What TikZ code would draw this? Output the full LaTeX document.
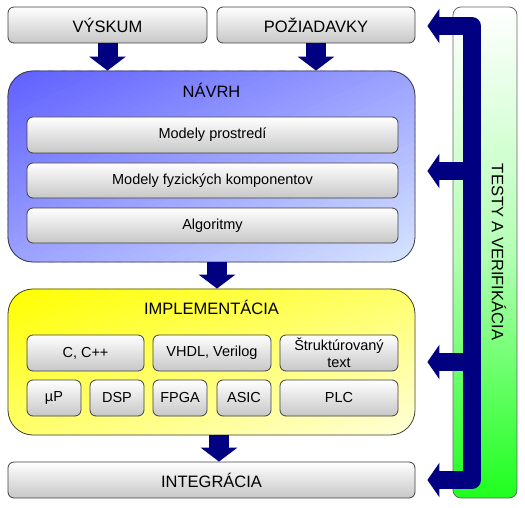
\documentclass[tikz,border=0pt]{standalone}
\usepackage{fontspec}
\setmainfont{Liberation Sans}
\usetikzlibrary{arrows.meta,calc,backgrounds}
\definecolor{arrowblue}{RGB}{0,0,128}
\definecolor{navrhdark}{RGB}{96,96,255}
\definecolor{navrhlight}{RGB}{214,228,255}
\definecolor{impldark}{RGB}{255,255,0}
\definecolor{impllight}{RGB}{255,255,215}
\definecolor{greenmid}{RGB}{180,255,180}
\definecolor{greenbot}{RGB}{30,255,30}
% diagonal (corner to corner) gradient fill behind a named node
\newcommand\diagfill[3]{%
  \begin{pgfonlayer}{background}
  \begin{scope}
    \clip[rounded corners=25pt] (#1.north west) rectangle (#1.south east);
    \foreach \i in {0,...,59}{%
      \pgfmathsetmacro\ca{\i/30}%
      \pgfmathsetmacro\cb{(\i+1.4)/30}%
      \pgfmathsetmacro\pc{100-100*\i/59}%
      \fill[#2!\pc!#3]
        ($(#1.north west)!\ca!(#1.north east)$) --
        ($(#1.north west)!\cb!(#1.north east)$) --
        ($(#1.north west)!\cb!(#1.south west)$) --
        ($(#1.north west)!\ca!(#1.south west)$) -- cycle;
    }
  \end{scope}
  \end{pgfonlayer}}
\begin{document}
\begin{tikzpicture}[x=1pt,y=-1pt,
  graybox/.style={draw=black!75, line width=0.8pt, rounded corners=6pt, top color=white, bottom color=black!22,
    minimum height=36pt, inner sep=0pt, align=center, font=\fontsize{14.5}{17}\selectfont},
  titlebox/.style={graybox, font=\fontsize{16.5}{19}\selectfont},
  bigbox/.style={draw=black!75, line width=0.8pt, rounded corners=25pt, inner sep=0pt, minimum width=407pt},
  titletext/.style={font=\fontsize{16.5}{19}\selectfont, inner sep=0pt},
  downarr/.style={arrowblue, line width=20pt, -{Triangle[length=14pt,width=36pt]}},
  leftarr/.style={arrowblue, line width=18pt, -{Triangle[length=12pt,width=34pt]}},
]
\useasboundingbox (0,0) rectangle (525,508);

% green side bar
\node[draw=black!60, line width=0.8pt, rounded corners=8pt, top color=white, bottom color=greenbot, middle color=greenmid,
  minimum width=64pt, minimum height=491pt, inner sep=0pt] (testy) at (485,252.5) {};

% top boxes
\node[titlebox, minimum width=199pt] (vyskum) at (107.5,25) {VÝSKUM};
\node[titlebox, minimum width=198pt] (poziad) at (316,25) {POŽIADAVKY};

% NAVRH
\node[bigbox, minimum height=191pt] (navrh) at (211.5,166.5) {};
\diagfill{navrh}{navrhdark}{navrhlight}
\node[titletext] (navrhT) at ([yshift=-20pt]navrh.north) {NÁVRH};
\node[graybox, minimum width=371pt] (mp) at (212.5,135) {Modely prostredí};
\node[graybox, minimum width=371pt, minimum height=35pt] (mf) at (212.5,180.5) {Modely fyzických komponentov};
\node[graybox, minimum width=371pt, minimum height=35pt] (alg) at (212.5,225.5) {Algoritmy};

% IMPLEMENTACIA
\node[bigbox, minimum height=146pt] (impl) at (211.5,362) {};
\diagfill{impl}{impldark}{impllight}
\node[titletext] (implT) at ([yshift=-19pt]impl.north) {IMPLEMENTÁCIA};
\node[graybox, minimum width=117pt] (c) at (85.5,353) {C, C++};
\node[graybox, minimum width=118pt] (vhdl) at (212,353) {VHDL, Verilog};
\node[graybox, minimum width=118pt] (strukt) at (339,353) {Štruktúrovaný\\text};
\node[graybox, minimum width=54pt] (up) at (54,398) {µP};
\node[graybox, minimum width=54pt] (dsp) at (117,398) {DSP};
\node[graybox, minimum width=54pt] (fpga) at (180,398) {FPGA};
\node[graybox, minimum width=54pt] (asic) at (244,398) {ASIC};
\node[graybox, minimum width=118pt] (plc) at (339,398) {PLC};

% INTEGRACIA
\node[titlebox, minimum width=407pt] (integ) at (211.5,480) {INTEGRÁCIA};

% down arrows
\draw[downarr] (vyskum.south) -- (vyskum.south |- navrh.north);
\draw[downarr] (poziad.south) -- (poziad.south |- navrh.north);
\draw[downarr] ([xshift=5.5pt]navrh.south) -- ([xshift=5.5pt]navrh.south |- impl.north);
\draw[downarr] ([xshift=7.5pt]impl.south) -- ([xshift=7.5pt]impl.south |- integ.north);

% feedback bracket
\coordinate (tipTop) at ([xshift=12pt,yshift=-1pt]poziad.east);
\coordinate (tipBot) at ([xshift=12pt]integ.east);
\coordinate (tipNav) at ([xshift=12pt,yshift=-4.5pt]navrh.east);
\coordinate (tipImp) at ([xshift=12pt]impl.east);
\coordinate (cTop) at (472,26);
\coordinate (cBot) at (472,480);
\draw[arrowblue, line width=18pt, line join=round,
  {Triangle[length=12pt,width=34pt]}-{Triangle[length=12pt,width=34pt]}]
  (tipTop) -- (cTop |- tipTop) -- (cBot |- tipBot) -- (tipBot);
\draw[leftarr] (cTop |- tipNav) -- (tipNav);
\draw[leftarr] (cTop |- tipImp) -- (tipImp);

\node[titletext, rotate=-90] (tvtext) at (499,252) {TESTY A VERIFIKÁCIA};
\end{tikzpicture}
\end{document}
